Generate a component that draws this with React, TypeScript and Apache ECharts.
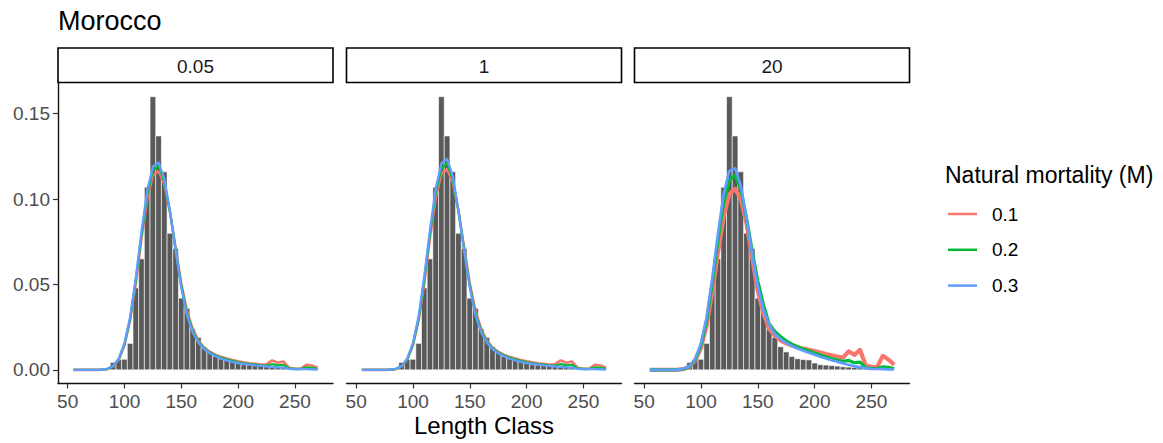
import React, { useEffect, useRef } from 'react';
import * as echarts from 'echarts';

// ---------- data ----------
const panelLabels = ['0.05', '1', '20'];
const mLevels = ['0.1', '0.2', '0.3'];
const mColors = ['#F8766D', '#00BA38', '#619CFF'];

const binWidth = 5;
const lengthBins = [90, 95, 100, 105, 110, 115, 120, 125, 130, 135, 140, 145, 150, 155, 160, 165, 170, 175, 180, 185, 190, 195, 200, 205, 210, 215, 220, 225, 230, 235, 240];
const observedFreq = [0.0043, 0.006, 0.0062, 0.0155, 0.048, 0.065, 0.107, 0.160, 0.137, 0.116, 0.080, 0.071, 0.042, 0.036, 0.024, 0.019, 0.0135, 0.0105, 0.0078, 0.0065, 0.006, 0.0058, 0.004, 0.003, 0.0028, 0.0025, 0.0022, 0.0018, 0.0016, 0.0014, 0.0012];

const curveLengths = [55, 60, 65, 70, 75, 80, 85, 90, 95, 100, 105, 110, 115, 120, 125, 130, 135, 140, 145, 150, 155, 160, 165, 170, 175, 180, 185, 190, 195, 200, 205, 210, 215, 220, 225, 230, 235, 240, 245, 250, 255, 260, 265, 270];

// panel "0.05"
const p1M01 = [0, 0, 0, 0, 0, 0.0001, 0.0005, 0.002, 0.006, 0.0145, 0.029, 0.051, 0.077, 0.1, 0.114, 0.1165, 0.109, 0.0925, 0.0715, 0.0505, 0.0345, 0.024, 0.0172, 0.0131, 0.0106, 0.0089, 0.0076, 0.0066, 0.0057, 0.005, 0.0044, 0.0039, 0.0035, 0.0031, 0.0033, 0.0055, 0.0042, 0.0048, 0.0012, 0.0006, 0.0006, 0.003, 0.0025, 0.0012];
const p1M02 = [0, 0, 0, 0, 0, 0.0001, 0.0005, 0.0021, 0.0062, 0.015, 0.030, 0.0525, 0.079, 0.1025, 0.1165, 0.1195, 0.1105, 0.0928, 0.0707, 0.0492, 0.0332, 0.023, 0.0166, 0.0127, 0.0102, 0.0085, 0.0071, 0.0061, 0.0052, 0.0045, 0.0039, 0.0034, 0.003, 0.0026, 0.0025, 0.0034, 0.0026, 0.0029, 0.0008, 0.0005, 0.0005, 0.0015, 0.0012, 0.0006];
const p1M03 = [0, 0, 0, 0, 0, 0.0001, 0.0006, 0.0022, 0.0065, 0.0155, 0.031, 0.054, 0.081, 0.105, 0.119, 0.1215, 0.112, 0.093, 0.07, 0.048, 0.032, 0.022, 0.016, 0.0122, 0.0097, 0.008, 0.0066, 0.0056, 0.0047, 0.004, 0.0035, 0.003, 0.0026, 0.0023, 0.002, 0.0017, 0.0015, 0.0013, 0.0006, 0.0004, 0.0004, 0.0004, 0.0003, 0.0002];

// panel "1"
const p2M01 = [0, 0, 0, 0, 0, 0.0001, 0.0005, 0.002, 0.006, 0.0145, 0.029, 0.051, 0.0775, 0.1005, 0.115, 0.1175, 0.11, 0.093, 0.0718, 0.0505, 0.0345, 0.024, 0.0172, 0.0131, 0.0106, 0.0089, 0.0076, 0.0066, 0.0057, 0.005, 0.0044, 0.0039, 0.0035, 0.0031, 0.0033, 0.0055, 0.0042, 0.0048, 0.0012, 0.0006, 0.0006, 0.003, 0.0025, 0.0012];
const p2M02 = [0, 0, 0, 0, 0, 0.0001, 0.0005, 0.0021, 0.0062, 0.015, 0.030, 0.053, 0.08, 0.1035, 0.118, 0.121, 0.1115, 0.0932, 0.0708, 0.0492, 0.0332, 0.023, 0.0166, 0.0127, 0.0102, 0.0085, 0.0071, 0.0061, 0.0052, 0.0045, 0.0039, 0.0034, 0.003, 0.0026, 0.0025, 0.0034, 0.0026, 0.0029, 0.0008, 0.0005, 0.0005, 0.0015, 0.0012, 0.0006];
const p2M03 = [0, 0, 0, 0, 0, 0.0001, 0.0006, 0.0022, 0.0066, 0.0157, 0.0315, 0.055, 0.082, 0.106, 0.121, 0.1235, 0.1135, 0.0935, 0.07, 0.048, 0.032, 0.022, 0.016, 0.0122, 0.0097, 0.008, 0.0066, 0.0056, 0.0047, 0.004, 0.0035, 0.003, 0.0026, 0.0023, 0.002, 0.0017, 0.0015, 0.0013, 0.0006, 0.0004, 0.0004, 0.0004, 0.0003, 0.0002];

// panel "20"
const p3M01 = [0, 0, 0, 0, 0, 0.0001, 0.0005, 0.0018, 0.0055, 0.013, 0.026, 0.046, 0.069, 0.09, 0.103, 0.106, 0.1, 0.086, 0.066, 0.046, 0.033, 0.024, 0.02, 0.0173, 0.0155, 0.0142, 0.0132, 0.0124, 0.0117, 0.011, 0.0102, 0.0093, 0.0085, 0.0078, 0.0072, 0.0108, 0.0088, 0.0117, 0.0025, 0.0018, 0.0016, 0.0082, 0.006, 0.003];
const p3M02 = [0, 0, 0, 0, 0, 0.0001, 0.0005, 0.002, 0.006, 0.0145, 0.029, 0.051, 0.076, 0.098, 0.111, 0.114, 0.106, 0.089, 0.07, 0.052, 0.038, 0.027, 0.0225, 0.0195, 0.017, 0.015, 0.0135, 0.0122, 0.011, 0.0098, 0.0087, 0.0076, 0.0066, 0.0058, 0.005, 0.0055, 0.0042, 0.0045, 0.0012, 0.0008, 0.0008, 0.0018, 0.0015, 0.0006];
const p3M03 = [0, 0, 0, 0, 0, 0.0001, 0.0006, 0.0022, 0.0065, 0.0155, 0.031, 0.054, 0.08, 0.103, 0.1165, 0.118, 0.108, 0.089, 0.068, 0.049, 0.035, 0.0265, 0.021, 0.018, 0.0158, 0.014, 0.0125, 0.0112, 0.01, 0.0088, 0.0077, 0.0066, 0.0056, 0.0047, 0.0038, 0.003, 0.0022, 0.0016, 0.0009, 0.0006, 0.0005, 0.0004, 0.0003, 0.0002];

const panelCurves = [
  [p1M01, p1M02, p1M03],
  [p2M01, p2M02, p2M03],
  [p3M01, p3M02, p3M03],
];

const xTicks = [50, 100, 150, 200, 250];
const yTicks = [0, 0.05, 0.1, 0.15];

// ---------- layout ----------
const FONT = '"Liberation Sans", Arial, sans-serif';
const panelLefts = [58, 346.5, 634.5];
const panelWidth = 275;
const panelTop = 83;
const panelHeight = 300.5;
const xMin = 41.5;
const xMax = 283.5;
const yMin = -0.008;
const yMax = 0.168;
const lineWidths = [
  [2.6, 2.3, 2.3],
  [2.6, 2.3, 2.3],
  [4.2, 3.2, 2.7],
];

export default function App() {
  const ref = useRef<HTMLDivElement>(null);

  useEffect(() => {
    if (!ref.current) return;
    const chart = echarts.init(ref.current, undefined, { renderer: 'svg' });

    const grids = panelLefts.map((left) => ({ left, top: panelTop, width: panelWidth, height: panelHeight }));

    const xAxes = panelLefts.map((_, i) => ({
      type: 'value',
      gridIndex: i,
      min: xMin,
      max: xMax,
      splitLine: { show: false },
      axisLine: { show: true, onZero: false, lineStyle: { color: '#111', width: 1.4 } },
      axisTick: { show: true, length: 5, customValues: xTicks, lineStyle: { color: '#333', width: 1.2 } },
      axisLabel: {
        customValues: xTicks,
        margin: 8,
        fontSize: 19,
        fontFamily: FONT,
        color: '#4D4D4D',
        formatter: (v: number) => String(v),
      },
    }));

    const yAxes = panelLefts.map((_, i) => ({
      type: 'value',
      gridIndex: i,
      min: yMin,
      max: yMax,
      show: i === 0,
      splitLine: { show: false },
      axisLine: { show: true, onZero: false, lineStyle: { color: '#111', width: 1.4 } },
      axisTick: { show: true, length: 5, customValues: yTicks, lineStyle: { color: '#333', width: 1.2 } },
      axisLabel: {
        customValues: yTicks,
        margin: 8,
        fontSize: 19,
        fontFamily: FONT,
        color: '#4D4D4D',
        formatter: (v: number) => v.toFixed(2),
      },
    }));

    const series: any[] = [];
    panelLefts.forEach((_, i) => {
      series.push({
        type: 'custom',
        name: 'Observed',
        xAxisIndex: i,
        yAxisIndex: i,
        z: 1,
        data: lengthBins.map((b, k) => [b, observedFreq[k]]),
        renderItem: (params: any, api: any) => {
          const x = api.value(0) as number;
          const v = api.value(1) as number;
          const tl = api.coord([x - binWidth / 2, v]);
          const br = api.coord([x + binWidth / 2, 0]);
          return {
            type: 'rect',
            shape: { x: tl[0], y: tl[1], width: br[0] - tl[0], height: br[1] - tl[1] },
            style: { fill: '#595959', stroke: '#FFFFFF', lineWidth: 0.6 },
          };
        },
      });
      panelCurves[i].forEach((vals, j) => {
        series.push({
          type: 'line',
          name: mLevels[j],
          xAxisIndex: i,
          yAxisIndex: i,
          z: 2 + j,
          showSymbol: false,
          symbol: 'none',
          color: mColors[j],
          lineStyle: { color: mColors[j], width: lineWidths[i][j], join: 'round' },
          data: curveLengths.map((x, k) => [x, vals[k]]),
        });
      });
    });

    const graphics: any[] = [];
    panelLefts.forEach((left, i) => {
      graphics.push({
        type: 'rect',
        shape: { x: left, y: 48, width: panelWidth, height: 34.5 },
        style: { fill: '#FFFFFF', stroke: '#000000', lineWidth: 1.6 },
      });
      graphics.push({
        type: 'text',
        x: left + panelWidth / 2,
        y: 66,
        style: {
          text: panelLabels[i],
          fontSize: 19,
          fontFamily: FONT,
          fill: '#1A1A1A',
          align: 'center',
          verticalAlign: 'middle',
        },
      });
    });
    graphics.push({
      type: 'text',
      x: panelLefts[1] + panelWidth / 2,
      y: 425,
      style: {
        text: 'Length Class',
        fontSize: 24,
        fontFamily: FONT,
        fill: '#000000',
        align: 'center',
        verticalAlign: 'middle',
      },
    });

    chart.setOption({
      animation: false,
      backgroundColor: '#FFFFFF',
      title: [
        {
          text: 'Morocco',
          left: 58,
          top: 7,
          padding: 0,
          textStyle: { fontSize: 27, fontWeight: 'normal', fontFamily: FONT, color: '#000000' },
        },
        {
          text: 'Natural mortality (M)',
          left: 945,
          top: 163,
          padding: 0,
          textStyle: { fontSize: 23, fontWeight: 'normal', fontFamily: FONT, color: '#000000' },
        },
      ],
      legend: {
        data: mLevels,
        orient: 'vertical',
        left: 948,
        top: 204.5,
        padding: 0,
        itemWidth: 29,
        itemHeight: 2.5,
        itemGap: 16.8,
        icon: 'rect',
        selectedMode: false,
        textStyle: { fontSize: 19, lineHeight: 19, fontFamily: FONT, color: '#000000', padding: [0, 0, 0, 10] },
      },
      grid: grids,
      xAxis: xAxes,
      yAxis: yAxes,
      series,
      graphic: graphics,
    });

    return () => chart.dispose();
  }, []);

  return (
    <div
      ref={ref}
      style={{ position: 'absolute', left: 0, top: 0, width: 1163, height: 443, background: '#fff' }}
    />
  );
}
